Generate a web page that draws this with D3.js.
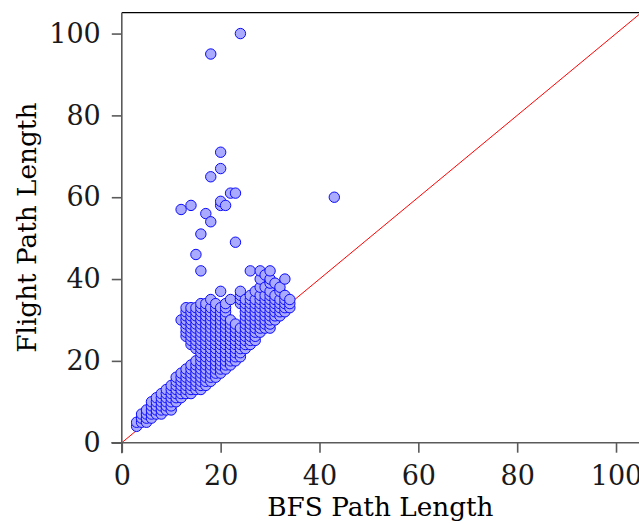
<!DOCTYPE html>
<html><head><meta charset="utf-8">
<script src="https://cdn.jsdelivr.net/npm/d3@7"></script>
<style>html,body{margin:0;padding:0;background:#fff;}svg{display:block;}</style>
</head><body>
<svg id="chart" width="639" height="524"></svg>
<script>
// BFS path length values (x) and, for each, the flight path lengths (y) observed
const bfsValues = [3,4,5,6,7,8,9,10,11,12,13,14,15,16,17,18,19,20,21,22,23,24,25,26,27,28,29,30,31,32,33,34,43];
const flightByBfs = [
  [4,5],
  [5,6,7],
  [5,6,7,8],
  [6,7,8,9,10],
  [7,8,9,10,11],
  [7,8,9,10,11,12],
  [8,9,10,11,12,13],
  [8,9,10,11,12,13,14],
  [10,11,12,13,14,15,16],
  [11,12,13,14,15,16,17,30,57],
  [12,13,14,15,16,17,18,26,27,28,29,30,31,32,33],
  [12,13,14,15,16,17,18,19,24,25,26,27,28,29,30,31,32,33,58],
  [13,14,15,16,17,18,19,20,23,24,25,26,27,28,29,30,31,32,33,46],
  [13,14,15,16,17,18,19,20,21,22,23,24,25,26,27,28,29,30,31,32,33,34,42,51],
  [14,15,16,17,18,19,20,21,22,23,24,25,26,27,28,29,30,31,32,33,34,56],
  [15,16,17,18,19,20,21,22,23,24,25,26,27,28,29,30,31,32,33,35,54,65,95],
  [16,17,18,19,20,21,22,23,24,25,26,27,28,29,30,31,32,33,34],
  [17,18,19,20,21,22,23,24,25,26,27,28,29,30,31,32,33,37,58,59,67,71],
  [18,19,20,21,22,23,24,25,26,27,28,29,30,31,32,33,34,58],
  [19,20,21,22,23,24,25,26,27,28,29,30,35,61],
  [20,21,22,23,24,25,26,27,28,29,49,61],
  [21,22,23,24,25,26,27,28,34,35,36,37,100],
  [23,24,25,26,27,28,29,30,31,32,33,34,35],
  [24,25,26,27,28,29,30,31,32,33,34,35,36,42],
  [25,26,27,28,29,30,31,32,33,34,35,37],
  [27,28,29,30,31,32,33,34,35,36,38,40,42],
  [28,29,30,31,32,33,34,35,36,38,41],
  [28,29,30,31,32,33,34,35,36,37,39,40,42],
  [30,31,32,33,34,35,36,39],
  [31,32,33,34,35,37,38],
  [32,33,34,35,36,40],
  [33,34,35],
  [60]
];
const xTicks = [0, 20, 40, 60, 80, 100];
const yTicks = [0, 20, 40, 60, 80, 100];
const xTitle = "BFS Path Length";
const yTitle = "Flight Path Length";

const points = [];
bfsValues.forEach((b, i) => flightByBfs[i].forEach(f => points.push({x: b, y: f})));

const svg = d3.select("#chart");
const mLeft = 121.8, mRight = 639, mTop = 12.7, mBottom = 442.7;
const x = d3.scaleLinear().domain([0, 104.65]).range([mLeft, mRight]);
const y = d3.scaleLinear().domain([0, 105.1]).range([mBottom, mTop]);

const font = "'DejaVu Serif', serif";

svg.append("defs").append("clipPath").attr("id", "plotclip")
  .append("rect").attr("x", mLeft).attr("y", mTop).attr("width", mRight - mLeft).attr("height", mBottom - mTop);

// diagonal y = x
svg.append("line")
  .attr("clip-path", "url(#plotclip)")
  .attr("x1", x(0)).attr("y1", y(0)).attr("x2", x(110)).attr("y2", y(110))
  .attr("stroke", "#ff0000").attr("stroke-width", 1);

// top frame line
svg.append("line").attr("x1", mLeft).attr("x2", mRight).attr("y1", mTop).attr("y2", mTop)
  .attr("stroke", "#000").attr("stroke-width", 1.2);

// axes
const axisColor = "#5a5a5a";
const gx = svg.append("g").attr("transform", `translate(0,${mBottom})`)
  .call(d3.axisBottom(x).tickValues(xTicks).tickSize(10).tickSizeOuter(0).tickPadding(13));
gx.select(".domain").remove();
gx.selectAll(".tick line").attr("stroke", axisColor).attr("stroke-width", 1.6);
gx.selectAll(".tick text").attr("font-family", font).attr("font-size", 27).attr("fill", "#1a1a1a");
gx.append("line").attr("x1", mLeft - 10.5).attr("x2", mRight).attr("y1", 0).attr("y2", 0)
  .attr("stroke", axisColor).attr("stroke-width", 1.6);

const gy = svg.append("g").attr("transform", `translate(${mLeft},0)`)
  .call(d3.axisLeft(y).tickValues(yTicks).tickSize(10).tickSizeOuter(0).tickPadding(11));
gy.select(".domain").remove();
gy.selectAll(".tick line").attr("stroke", axisColor).attr("stroke-width", 1.6);
gy.selectAll(".tick text").attr("font-family", font).attr("font-size", 27).attr("fill", "#1a1a1a");
gy.append("line").attr("x1", 0).attr("x2", 0).attr("y1", mTop).attr("y2", mBottom + 10.5)
  .attr("stroke", axisColor).attr("stroke-width", 1.6);

// points
svg.append("g").selectAll("circle").data(points).join("circle")
  .attr("cx", d => x(d.x)).attr("cy", d => y(d.y)).attr("r", 5.2)
  .attr("fill", "#aaaaff").attr("stroke", "#0a0aff").attr("stroke-width", 1);

// titles
svg.append("text").attr("x", (mLeft + mRight) / 2).attr("y", 516).attr("text-anchor", "middle")
  .attr("font-family", font).attr("font-size", 26.3).attr("fill", "#000").text(xTitle);
svg.append("text").attr("transform", `translate(36,${(mTop + mBottom) / 2}) rotate(-90)`)
  .attr("text-anchor", "middle")
  .attr("font-family", font).attr("font-size", 26.3).attr("fill", "#000").text(yTitle);
</script>
</body></html>
